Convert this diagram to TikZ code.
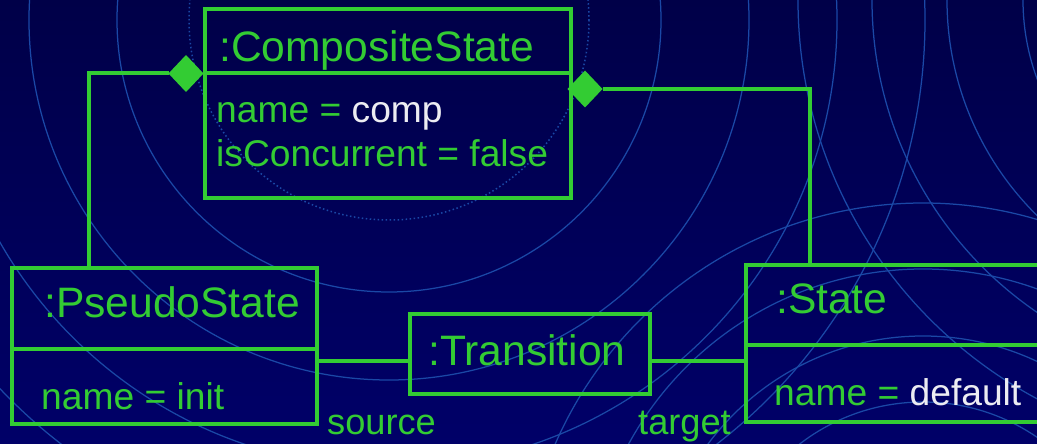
\documentclass[tikz,border=0pt]{standalone}
\usepackage{fontspec}
\setmainfont{Liberation Sans}
\usetikzlibrary{shapes.geometric}

\definecolor{bgtop}{RGB}{0,0,72}
\definecolor{bgbot}{RGB}{0,0,104}
\definecolor{umlgreen}{RGB}{51,204,51}
\definecolor{ringblue}{RGB}{26,72,166}
\definecolor{valwhite}{RGB}{236,236,242}

\begin{document}
\begin{tikzpicture}[x=1pt,y=-1pt,
  objbox/.style={draw=umlgreen, line width=4pt, rectangle, anchor=north west,
                 inner sep=0pt, outer sep=0pt},
  title/.style={text=umlgreen, font=\fontsize{42.6}{48}\selectfont,
                anchor=base west, inner sep=0pt},
  attr/.style={text=umlgreen, font=\fontsize{37.2}{44}\selectfont,
               anchor=base west, inner sep=0pt},
  role/.style={text=umlgreen, font=\fontsize{36.2}{42}\selectfont,
               anchor=base west, inner sep=0pt},
  link/.style={draw=umlgreen, line width=4pt},
  comp/.style={diamond, fill=umlgreen, inner sep=0pt, outer sep=0pt,
               minimum width=35pt, minimum height=37pt},
  ring/.style={draw=ringblue, line width=1.25pt},
]
\useasboundingbox (0,0) rectangle (1037,444);

% backdrop
\fill[top color=bgtop, bottom color=bgbot] (0,0) rectangle (1037,444);
\begin{scope}
  \clip (0,0) rectangle (1037,444);
  % rings round the upper centre
  \draw[ring, line width=1.5pt, dash pattern=on 1.5pt off 2.5pt] (389,20) circle[radius=200];
  \foreach \r in {272,360,448,536} \draw[ring] (389,20) circle[radius=\r];
  % rings rising from the lower right
  \foreach \r in {202,268,335,401} \draw[ring] (923,604) circle[radius=\r];
  % rings hanging from the upper right
  \foreach \r in {227,303,378,452} \draw[ring] (1250,0) circle[radius=\r];
\end{scope}

% objects
\node[objbox, minimum width=366pt, minimum height=189pt] (cs) at (205,9) {};
\draw[link] ([yshift=-64pt]cs.north west) -- ([yshift=-64pt]cs.north east);

\node[objbox, minimum width=305pt, minimum height=156pt] (ps) at (12,268) {};
\draw[link] ([yshift=-81pt]ps.north west) -- ([yshift=-81pt]ps.north east);

\node[objbox, minimum width=240pt, minimum height=80pt] (tr) at (410,314) {};

\node[objbox, minimum width=310pt, minimum height=157pt] (st) at (746,265) {};
\draw[link] ([yshift=-80pt]st.north west) -- ([yshift=-80pt]st.north east);

% labels
\node[title] (csname) at (219,62) {:CompositeState};
\node[attr] (csattr1) at (216,122) {name = \textcolor{valwhite}{comp}};
\node[attr] (csattr2) at (216,166) {isConcurrent = false};

\node[title] (psname) at (44,317) {:PseudoState};
\node[attr] (psattr) at (41,409) {name = init};

\node[title] (trname) at (428,365) {:Transition};

\node[title] (stname) at (776,313) {:State};
\node[attr] (stattr) at (774,405) {name = \textcolor{valwhite}{default}};

% composition links
\node[comp] (d1) at (186,73.5) {};
\node[comp] (d2) at (585,89) {};
\draw[link] (d1.west) -| ([xshift=77pt]ps.north west);
\draw[link] (d2.east) -| ([xshift=64pt]st.north west);

% transition ends
\draw[link] ([yshift=-93pt]ps.north east) -- ([yshift=-47pt]tr.north west);
\draw[link] ([yshift=-47pt]tr.north east) -- ([yshift=-96pt]st.north west);
\node[role] (src) at (327,434) {source};
\node[role] (tgt) at (638,434) {target};
\end{tikzpicture}
\end{document}
